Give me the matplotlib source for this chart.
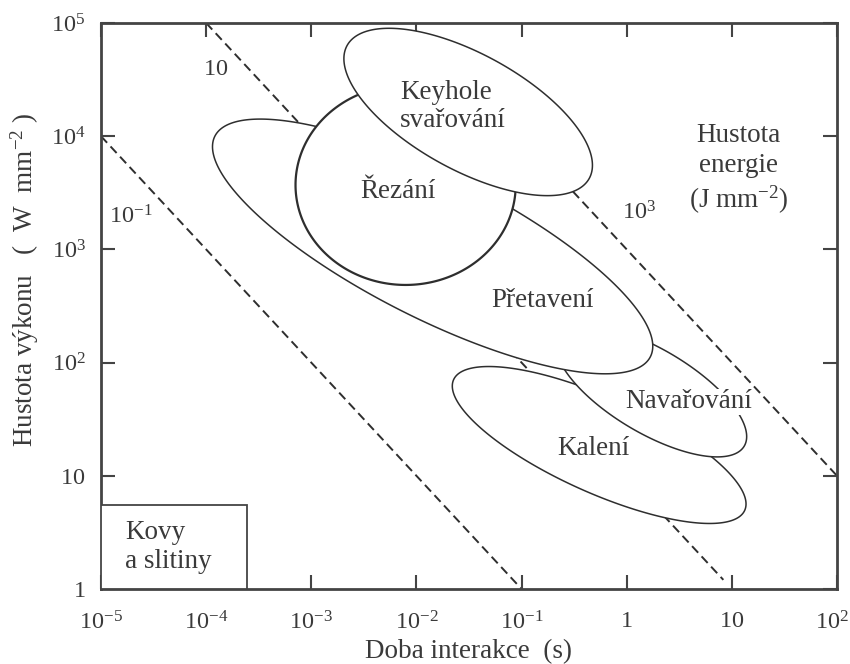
import numpy as np
import matplotlib
matplotlib.use('Agg')
import matplotlib.pyplot as plt
import matplotlib.transforms as mtransforms

plt.rcParams['font.family'] = ['Liberation Serif', 'DejaVu Serif']
plt.rcParams['mathtext.fontset'] = 'custom'
plt.rcParams['mathtext.rm'] = 'Liberation Serif'
plt.rcParams['mathtext.it'] = 'Liberation Serif:italic'
plt.rcParams['mathtext.bf'] = 'Liberation Serif:bold'

# ---- data ----
x_ticks = [1e-5, 1e-4, 1e-3, 1e-2, 1e-1, 1, 10, 1e2]
x_tick_labels = [r'$10^{-5}$', r'$10^{-4}$', r'$10^{-3}$', r'$10^{-2}$', r'$10^{-1}$',
                 r'$1$', r'$10$', r'$10^{2}$']
y_ticks = [1, 10, 1e2, 1e3, 1e4, 1e5]
y_tick_labels = [r'$1$', r'$10$', r'$10^{2}$', r'$10^{3}$', r'$10^{4}$', r'$10^{5}$']

# constant energy density lines (J mm^-2): P = E / t
energy_levels = [0.1, 10, 1000]
energy_labels = [r'$10^{-1}$', r'$10$', r'$10^{3}$']
line_t_start = [1e-5, 1e-4, 0.25]
line_t_end = [1e-1, 8.3, 1e2]
energy_label_t = [1.9e-5, 1.22e-4, 1.3]
energy_label_P = [1.93e3, 3.85e4, 2.09e3]

# process regions (ellipses in log-log space), drawing order bottom -> top
region_names = ['Kalení', 'Navařování', 'Přetavení', 'Řezání', 'Keyhole\nsvařování']
region_t = [0.547, 1.71, 0.01426, 0.00789, 0.03105]       # centre, s
region_P = [18.71, 56.1, 1062.0, 3707.0, 16370.0]          # centre, W mm^-2
region_axis1 = [1.500, 1.010, 2.289, 1.047, 1.293]          # semi-axis, decades
region_axis2 = [0.426, 0.378, 0.640, 0.883, 0.521]          # semi-axis, decades
region_tilt = [-22.35, -28.2, -24.9, 0.0, -26.3]            # degrees
region_lw = [1.1, 1.1, 1.1, 1.6, 1.1]
region_label_t = [0.48, 3.85, 0.157, 0.0067, 0.0070]
region_label_P = [17.6, 44.9, 357.0, 3215.0, 18300.0]

box_t = [1e-5, 2.45e-4]
box_P = [1.0, 5.5]
box_label = 'Kovy\na slitiny'

txt_color = '#3a3a3a'
line_color = '#2e2e2e'
FS_REGION = 19.5
FS_TICK = 17.5
FS_AXLABEL = 19.5

fig = plt.figure(figsize=(8.5, 6.64), dpi=100)
ax = fig.add_axes([101/850, 1 - 589/664, (837-101)/850, (589-23)/664])
ax.set_xscale('log')
ax.set_yscale('log')
ax.set_xlim(1e-5, 1e2)
ax.set_ylim(1, 1e5)

# dashed energy lines
for E, t0, t1, lab, lt, lp in zip(energy_levels, line_t_start, line_t_end,
                                  energy_labels, energy_label_t, energy_label_P):
    t = np.array([t0, t1])
    ax.plot(t, E / t, color=line_color, lw=1.4, dashes=(4.6, 2.6), zorder=1.5)
    ax.text(lt, lp, lab, fontsize=FS_TICK, color=txt_color, ha='center', va='center')

# ellipses
phi = np.linspace(0, 2 * np.pi, 500)
for i, (ct, cP, a, b, tl, lw) in enumerate(zip(region_t, region_P, region_axis1,
                                               region_axis2, region_tilt, region_lw)):
    th = np.radians(tl)
    u = a * np.cos(phi)
    v = b * np.sin(phi)
    lx = np.log10(ct) + u * np.cos(th) - v * np.sin(th)
    ly = np.log10(cP) + u * np.sin(th) + v * np.cos(th)
    ax.fill(10 ** lx, 10 ** ly, facecolor='white', edgecolor=line_color, lw=lw,
            zorder=2 + 0.1 * i)

for name, lt, lp in zip(region_names, region_label_t, region_label_P):
    kw = dict(fontsize=FS_REGION, color=txt_color, va='center', zorder=4)
    if name.startswith('Keyhole'):
        ax.text(lt, lp, name, ha='left', multialignment='left', linespacing=1.2, **kw)
    elif name == 'Navařování':
        ax.text(lt, lp, name, ha='center',
                bbox=dict(facecolor='white', edgecolor='none', pad=0.5), **kw)
    else:
        ax.text(lt, lp, name, ha='center', **kw)

# metals box
ax.fill([box_t[0], box_t[1], box_t[1], box_t[0]], [box_P[0], box_P[0], box_P[1], box_P[1]],
        facecolor='white', edgecolor='#444444', lw=1.3, zorder=3)
ax.text(1.69e-5, 2.35, box_label, fontsize=FS_REGION, color=txt_color, ha='left', va='center',
        linespacing=1.25, zorder=4)

# energy density legend text
ax.text(11.5, 5100, 'Hustota\nenergie\n(J mm$^{-2}$)', fontsize=FS_REGION, color=txt_color,
        ha='center', va='center', linespacing=1.25)

# axes styling
ax.set_xticks(x_ticks)
ax.set_xticklabels(x_tick_labels)
ax.set_yticks(y_ticks)
ax.set_yticklabels(y_tick_labels)
ax.minorticks_off()
ax.tick_params(which='major', direction='in', length=10, width=1.5, color='#444444',
               top=True, right=True, labelsize=FS_TICK, labelcolor=txt_color)
ax.tick_params(axis='x', pad=16)
ax.tick_params(axis='y', pad=11)
for s in ax.spines.values():
    s.set_linewidth(2.0)
    s.set_color('#444444')

last = ax.get_xticklabels()[-1]
last.set_transform(last.get_transform() +
                   mtransforms.ScaledTranslation(-5 / 100, 0, fig.dpi_scale_trans))

ax.set_xlabel('Doba interakce  (s)', fontsize=FS_AXLABEL, color=txt_color)
ax.xaxis.set_label_coords(0.5, -0.089)
fig.text(25 / 850, 1 - 447 / 664, 'Hustota výkonu   (  W  mm$^{-2}$ )', fontsize=FS_AXLABEL,
         color=txt_color, rotation=90, ha='center', va='bottom')

fig.savefig('out.png', dpi=100)
